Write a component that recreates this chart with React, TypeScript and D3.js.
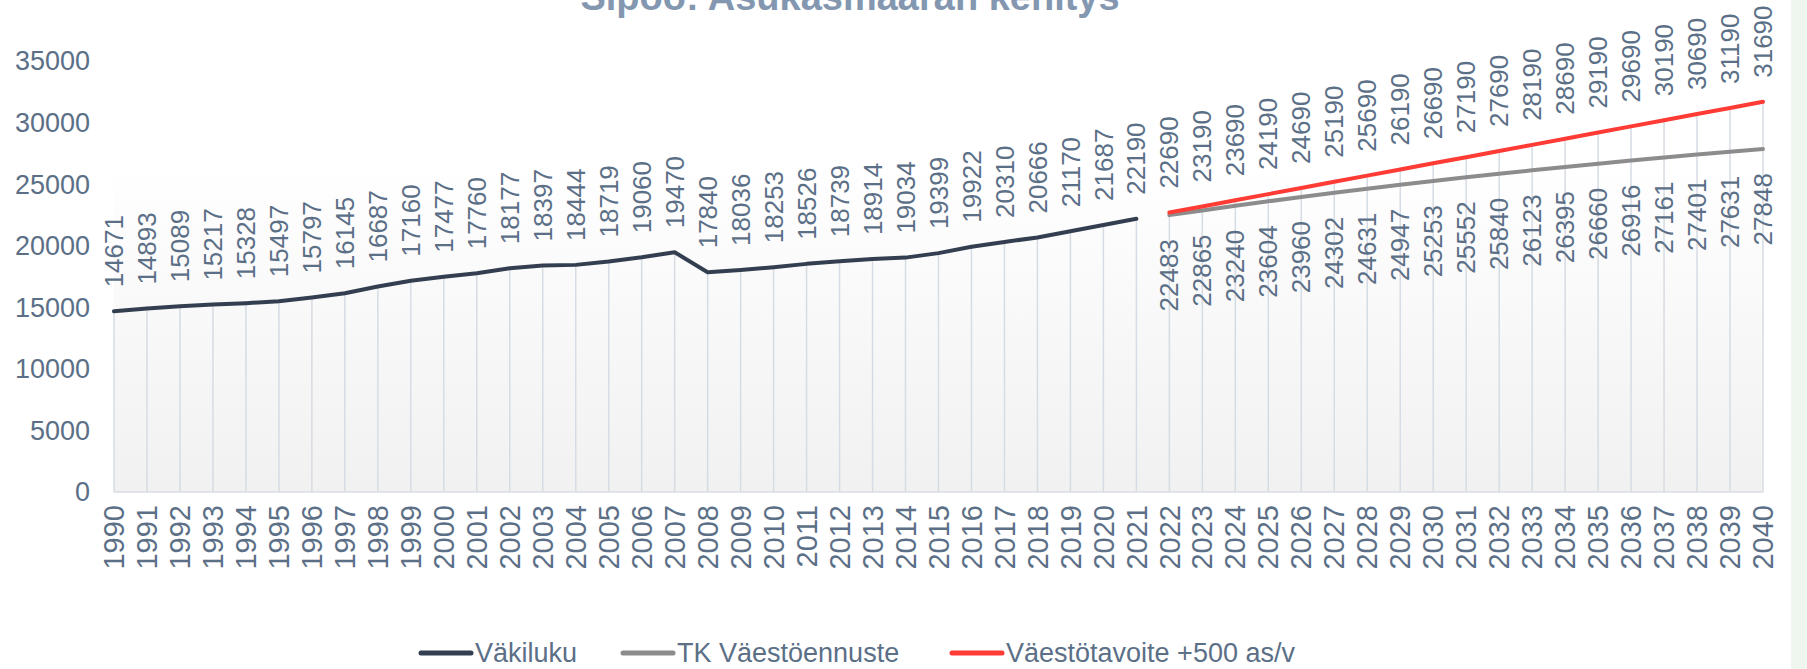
import React from 'react';
import * as d3 from 'd3';

// categories
const years = d3.range(1990, 2041);
const histYears = d3.range(1990, 2022);
const fcYears = d3.range(2022, 2041);

// series
const vakiluku = [
  14671, 14893, 15089, 15217, 15328, 15497, 15797, 16145, 16687, 17160,
  17477, 17760, 18177, 18397, 18444, 18719, 19060, 19470, 17840, 18036,
  18253, 18526, 18739, 18914, 19034, 19399, 19922, 20310, 20666, 21170,
  21687, 22190,
];
const tkEnnuste = [
  22483, 22865, 23240, 23604, 23960, 24302, 24631, 24947, 25253, 25552,
  25840, 26123, 26395, 26660, 26916, 27161, 27401, 27631, 27848,
];
const tavoite = [
  22690, 23190, 23690, 24190, 24690, 25190, 25690, 26190, 26690, 27190,
  27690, 28190, 28690, 29190, 29690, 30190, 30690, 31190, 31690,
];
const yTicks = [0, 5000, 10000, 15000, 20000, 25000, 30000, 35000];

const legendItems = [
  { name: 'Väkiluku', color: '#333f50' },
  { name: 'TK Väestöennuste', color: '#8c8c8c' },
  { name: 'Väestötavoite +500 as/v', color: '#ff3b35' },
];

const width = 1807;
const height = 669;
const textColor = '#5b6f87';
const font = '"Liberation Sans", Arial, sans-serif';

export default function App() {
  const x = d3.scalePoint<number>().domain(years).range([114, 1763]);
  const y = d3.scaleLinear().domain([0, 35000]).range([492, 61]);

  const hist = histYears.map((yr, i) => ({ yr, v: vakiluku[i] }));
  const tk = fcYears.map((yr, i) => ({ yr, v: tkEnnuste[i] }));
  const goal = fcYears.map((yr, i) => ({ yr, v: tavoite[i] }));

  const line = d3.line<{ yr: number; v: number }>()
    .x((d) => x(d.yr) as number)
    .y((d) => y(d.v));

  const tops = [...hist, ...goal];
  const gap = 24;

  const upLabel = (d: { yr: number; v: number }, key: string) => {
    const px = x(d.yr) as number;
    const py = y(d.v) - gap;
    return (
      <text
        key={key}
        transform={`translate(${px},${py}) rotate(-90)`}
        dy="0.35em"
        textAnchor="start"
        fontSize={26}
        fill={textColor}
      >
        {d.v}
      </text>
    );
  };

  const legendX = [421, 623, 952];

  return (
    <svg
      width={width}
      height={height}
      style={{ position: 'absolute', left: 0, top: 0, fontFamily: font }}
    >
      <defs>
        <linearGradient id="plotbg" x1="0" y1="0" x2="0" y2="1">
          <stop offset="0%" stopColor="#ffffff" />
          <stop offset="100%" stopColor="#f1f1f1" />
        </linearGradient>
      </defs>
      <rect x={0} y={0} width={width} height={height} fill="#ffffff" />
      <rect x={1791} y={0} width={16} height={height} fill="#eef6ef" />

      <text x={850} y={10} textAnchor="middle" fontSize={38} fontWeight="bold" fill="#8497b0">
        Sipoo: Asukasmäärän kehitys
      </text>

      <rect x={114} y={163} width={1763 - 114} height={492 - 163} fill="url(#plotbg)" />

      {/* drop lines */}
      {tops.map((d) => (
        <line
          key={`drop${d.yr}`}
          x1={x(d.yr)}
          x2={x(d.yr)}
          y1={y(d.v)}
          y2={y(0)}
          stroke="#d6dce4"
          strokeWidth={1.5}
        />
      ))}
      <line x1={114} x2={1763} y1={y(0)} y2={y(0)} stroke="#d9dde3" strokeWidth={1.5} />

      {yTicks.map((t) => (
        <text
          key={`yt${t}`}
          x={90}
          y={y(t)}
          dy="0.35em"
          textAnchor="end"
          fontSize={27}
          fill={textColor}
        >
          {t}
        </text>
      ))}

      {years.map((yr) => (
        <text
          key={`xt${yr}`}
          transform={`translate(${x(yr)},${505}) rotate(-90)`}
          dy="0.35em"
          textAnchor="end"
          fontSize={29}
          fill={textColor}
        >
          {yr}
        </text>
      ))}

      <path d={line(hist) ?? ''} fill="none" stroke="#333f50" strokeWidth={4} strokeLinecap="round" strokeLinejoin="round" />
      <path d={line(tk) ?? ''} fill="none" stroke="#8c8c8c" strokeWidth={4} strokeLinecap="round" strokeLinejoin="round" />
      <path d={line(goal) ?? ''} fill="none" stroke="#ff3b35" strokeWidth={4} strokeLinecap="round" strokeLinejoin="round" />

      {hist.map((d) => upLabel(d, `hl${d.yr}`))}
      {goal.map((d) => upLabel(d, `gl${d.yr}`))}
      {tk.map((d) => (
        <text
          key={`tl${d.yr}`}
          transform={`translate(${x(d.yr)},${y(d.v) + gap}) rotate(-90)`}
          dy="0.35em"
          textAnchor="end"
          fontSize={26}
          fill={textColor}
        >
          {d.v}
        </text>
      ))}

      {legendItems.map((item, i) => (
        <g key={item.name} transform={`translate(${legendX[i]},653)`}>
          <line x1={0} x2={50} y1={0} y2={0} stroke={item.color} strokeWidth={5} strokeLinecap="round" />
          <text x={54} y={0} dy="0.35em" fontSize={27} fill={textColor}>
            {item.name}
          </text>
        </g>
      ))}
    </svg>
  );
}
